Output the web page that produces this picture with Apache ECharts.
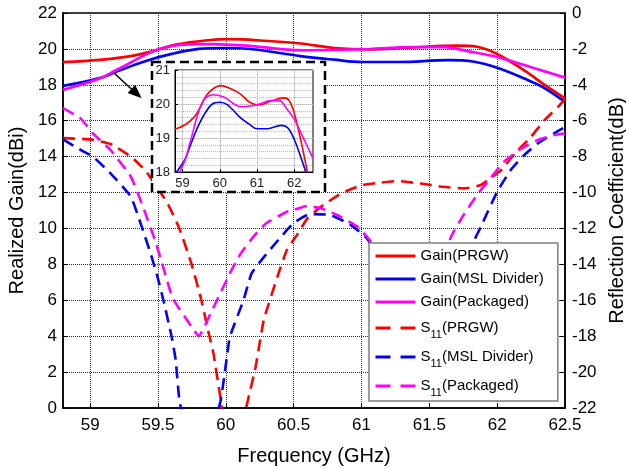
<!DOCTYPE html>
<html>
<head>
<meta charset="utf-8">
<script src="https://cdn.jsdelivr.net/npm/echarts@6/dist/echarts.min.js"></script>
<style>
  html, body { margin: 0; padding: 0; background: #fff; }
  #chart { width: 626px; height: 468px; }
</style>
</head>
<body>
<div id="chart"></div>
<script>
// frequency ticks (GHz)
const xTicks = [59, 59.5, 60, 60.5, 61, 61.5, 62, 62.5];
const insetXTicks = [59, 60, 61, 62];

// realized gain (dBi)
const freqGainPrgw = [58.8, 59.07, 59.3, 59.45, 59.64, 59.85, 60.03, 60.25, 60.55, 60.8, 61.05, 61.37, 61.7, 61.85, 62.0, 62.2, 62.35, 62.5];
const gainPrgw = [19.26, 19.39, 19.6, 19.85, 20.25, 20.47, 20.54, 20.47, 20.3, 20.05, 19.97, 20.08, 20.18, 20.12, 19.72, 18.8, 18.0, 17.25];

const freqGainMsl = [58.8, 59.07, 59.2, 59.4, 59.6, 59.8, 60.0, 60.2, 60.55, 60.8, 61.0, 61.28, 61.64, 61.82, 62.0, 62.2, 62.33, 62.5];
const gainMsl = [17.94, 18.38, 18.75, 19.3, 19.72, 20.0, 20.05, 19.98, 19.6, 19.4, 19.27, 19.27, 19.37, 19.3, 18.95, 18.35, 17.9, 17.05];

const freqGainPkg = [58.8, 59.07, 59.2, 59.52, 59.8, 60.12, 60.57, 61.0, 61.37, 61.6, 61.8, 62.0, 62.2, 62.35, 62.5];
const gainPkg = [17.72, 18.35, 18.85, 20.02, 20.27, 20.2, 19.92, 19.98, 20.1, 20.1, 19.85, 19.55, 19.1, 18.75, 18.4];

// reflection coefficient S11 (dB)
const freqS11Prgw = [58.8, 59.0, 59.15, 59.3, 59.41, 59.57, 59.66, 59.75, 59.82, 59.87, 59.91, 59.96, 60.05, 60.16, 60.22, 60.28, 60.38, 60.45, 60.53, 60.6, 60.7, 60.85, 61.0, 61.14, 61.26, 61.44, 61.6, 61.76, 61.88, 61.95, 62.03, 62.13, 62.25, 62.35, 62.45, 62.5];
const s11Prgw = [-6.97, -7.04, -7.3, -8.0, -8.8, -10.6, -12.05, -14.05, -16.0, -17.7, -19.0, -21.4, -25, -21.65, -19.7, -17.1, -14.7, -13.2, -12.3, -11.45, -10.8, -10.05, -9.6, -9.45, -9.36, -9.5, -9.68, -9.77, -9.58, -9.21, -8.75, -7.82, -6.89, -5.96, -5.22, -4.8];

const freqS11Msl = [58.8, 58.93, 59.02, 59.15, 59.3, 59.38, 59.45, 59.5, 59.54, 59.6, 59.63, 59.66, 59.8, 59.96, 60.01, 60.03, 60.13, 60.19, 60.28, 60.38, 60.5, 60.62, 60.77, 60.92, 61.04, 61.2, 61.45, 61.7, 61.82, 61.88, 62.0, 62.1, 62.2, 62.3, 62.42, 62.5];
const s11Msl = [-7.04, -7.63, -8.0, -8.93, -10.23, -11.9, -13.5, -14.8, -16.0, -18.0, -19.3, -21.65, -26, -21.65, -19.05, -18.03, -16.0, -14.5, -13.6, -12.7, -11.7, -11.2, -11.25, -11.8, -12.55, -14.5, -18, -15, -12.83, -11.9, -9.96, -8.75, -7.91, -7.26, -6.7, -6.35];

const freqS11Pkg = [58.8, 58.93, 59.02, 59.15, 59.3, 59.39, 59.48, 59.54, 59.61, 59.75, 59.8, 59.89, 59.96, 60.03, 60.11, 60.21, 60.3, 60.45, 60.5, 60.6, 60.7, 60.82, 60.97, 61.04, 61.2, 61.4, 61.6, 61.66, 61.76, 61.86, 61.95, 62.05, 62.18, 62.3, 62.42, 62.5];
const s11Pkg = [-5.3, -5.87, -6.7, -7.63, -9.12, -10.8, -12.7, -14.2, -15.9, -17.5, -18.0, -16.7, -15.6, -14.5, -13.4, -12.4, -11.7, -11.07, -10.97, -10.75, -10.88, -11.25, -11.9, -12.46, -14.0, -16.5, -14.0, -12.46, -11.16, -10.05, -9.21, -8.28, -7.54, -7.07, -6.8, -6.7];

const names = ['Gain(PRGW)', 'Gain(MSL Divider)', 'Gain(Packaged)', 'S11(PRGW)', 'S11(MSL Divider)', 'S11(Packaged)'];
const RED = '#ff0000', BLUE = '#0000ff', MAG = '#ff00ff';
const FONT = 'Liberation Sans, Arial, sans-serif';

const zip = (xs, ys) => xs.map((x, i) => [x, ys[i]]);

const chart = echarts.init(document.getElementById('chart'), null, { renderer: 'canvas' });

function gainLine(name, color, xs, ys, inset) {
  return {
    name, type: 'line', data: zip(xs, ys),
    xAxisIndex: inset ? 1 : 0, yAxisIndex: inset ? 2 : 0,
    showSymbol: false, symbol: 'none', smooth: 0.35, clip: true,
    lineStyle: { color, width: inset ? 1.6 : 2.7 },
    itemStyle: { color },
    z: inset ? 12 : 2,
    silent: true,
  };
}

function s11Line(name, color, xs, ys) {
  return {
    name, type: 'line', data: zip(xs, ys),
    xAxisIndex: 0, yAxisIndex: 1,
    showSymbol: false, symbol: 'none', smooth: 0.15, clip: true,
    lineStyle: { color, width: 2.6, type: [12, 7] },
    itemStyle: { color },
    z: 2,
    silent: true,
  };
}

const dotted = { type: 'dotted', color: '#333', width: 1 };

const option = {
  animation: false,
  backgroundColor: '#fff',
  textStyle: { fontFamily: FONT },
  grid: [
    { left: 63, right: 61, top: 13, bottom: 60, show: true, borderColor: '#000', borderWidth: 1.5, backgroundColor: 'transparent', outerBoundsMode: 'none', containLabel: false },
    { left: 175, top: 70, width: 138, height: 102, show: true, borderColor: '#000', borderWidth: 1, backgroundColor: '#fff', z: 10, outerBoundsMode: 'none', containLabel: false },
  ],
  xAxis: [
    {
      type: 'value', gridIndex: 0, min: 58.8, max: 62.5,
      name: 'Frequency (GHz)', nameLocation: 'middle', nameGap: 38,
      nameTextStyle: { fontSize: 20, color: '#000', fontFamily: FONT },
      axisLine: { lineStyle: { color: '#000', width: 1.5 } },
      axisTick: { inside: true, length: 5, customValues: xTicks, lineStyle: { color: '#000' } },
      axisLabel: { customValues: xTicks, fontSize: 17, color: '#000', margin: 9, fontFamily: FONT },
      splitLine: { show: true, lineStyle: dotted },
    },
    {
      type: 'value', gridIndex: 1, min: 58.8, max: 62.5, z: 10,
      axisLine: { lineStyle: { color: '#000', width: 1 } },
      axisTick: { inside: true, length: 3, customValues: insetXTicks, lineStyle: { color: '#000' } },
      axisLabel: { customValues: insetXTicks, fontSize: 13, color: '#222', margin: 5, fontFamily: FONT },
      splitLine: { show: true, lineStyle: { color: '#c8c8c8', width: 1 } },
    },
  ],
  yAxis: [
    {
      type: 'value', gridIndex: 0, position: 'left', min: 0, max: 22, interval: 2,
      name: 'Realized Gain(dBi)', nameLocation: 'middle', nameGap: 27,
      nameTextStyle: { fontSize: 20, color: '#000', fontFamily: FONT },
      axisLine: { show: true, lineStyle: { color: '#000', width: 1.5 } },
      axisTick: { show: true, inside: true, length: 5, lineStyle: { color: '#000' } },
      axisLabel: { fontSize: 17, color: '#000', margin: 6, fontFamily: FONT },
      splitLine: { show: true, lineStyle: dotted },
    },
    {
      type: 'value', gridIndex: 0, position: 'right', min: -22, max: 0, interval: 2,
      name: 'Reflection Coefficient(dB)', nameLocation: 'middle', nameGap: 39, nameRotate: 90,
      nameTextStyle: { fontSize: 20, color: '#000', fontFamily: FONT },
      axisLine: { show: true, lineStyle: { color: '#000', width: 1.5 } },
      axisTick: { show: true, inside: true, length: 5, lineStyle: { color: '#000' } },
      axisLabel: { fontSize: 17, color: '#000', margin: 7, fontFamily: FONT },
      splitLine: { show: false },
    },
    {
      type: 'value', gridIndex: 1, min: 18, max: 21, interval: 1, z: 10,
      axisLine: { show: true, lineStyle: { color: '#000', width: 1 } },
      axisTick: { show: true, inside: true, length: 3, lineStyle: { color: '#000' } },
      axisLabel: { fontSize: 13, color: '#222', margin: 5, fontFamily: FONT },
      splitLine: { show: true, lineStyle: { color: '#c8c8c8', width: 1 } },
      minorTick: { show: false, splitNumber: 5 },
      minorSplitLine: { show: true, lineStyle: { type: 'dotted', color: '#bbb', width: 1 } },
    },
  ],
  legend: {
    orient: 'vertical', left: 369, top: 243,
    backgroundColor: '#fff', borderColor: '#7f7f7f', borderWidth: 1.5,
    padding: [4, 14, 3, 5], itemGap: 5, itemWidth: 40, itemHeight: 17.5,
    selectedMode: false,
    itemStyle: { opacity: 0 },
    data: names.map((n, i) => ({
      name: n,
      itemStyle: { opacity: 0 },
      lineStyle: i < 3 ? { width: 3 } : { width: 3, type: [15, 10] },
    })),
    formatter: (name) => name.startsWith('S11')
      ? '{m|S}{s|11}{m|' + name.slice(3) + '}'
      : '{g|' + name + '}',
    textStyle: {
      fontSize: 15, color: '#000', fontFamily: FONT,
      rich: {
        g: { fontSize: 15, lineHeight: 17.5, padding: [1.5, 0, 1.5, 0], fontFamily: FONT, color: '#000' },
        m: { fontSize: 15, lineHeight: 17.5, fontFamily: FONT, color: '#000' },
        s: { fontSize: 11, lineHeight: 11, padding: [13, 0, 0, 0], fontFamily: FONT, color: '#000' },
      },
    },
  },
  graphic: [
    {
      type: 'rect', z: 5, silent: true,
      shape: { x: 152, y: 62, width: 173, height: 130 },
      style: { fill: '#fff', stroke: '#000', lineWidth: 2.5, lineDash: [9, 5] },
    },
    {
      type: 'polyline', z: 5, silent: true,
      shape: { points: [[114, 73], [133, 90.5]] },
      style: { stroke: '#000', lineWidth: 1.6, fill: null },
    },
    {
      type: 'polygon', z: 5, silent: true,
      shape: { points: [[141.7, 98.3], [127.7, 93.0], [135.1, 84.8]] },
      style: { fill: '#000' },
    },
  ],
  series: [
    gainLine(names[0], RED, freqGainPrgw, gainPrgw, false),
    gainLine(names[1], BLUE, freqGainMsl, gainMsl, false),
    gainLine(names[2], MAG, freqGainPkg, gainPkg, false),
    s11Line(names[3], RED, freqS11Prgw, s11Prgw),
    s11Line(names[4], BLUE, freqS11Msl, s11Msl),
    s11Line(names[5], MAG, freqS11Pkg, s11Pkg),
    gainLine(names[0], RED, freqGainPrgw, gainPrgw, true),
    gainLine(names[1], BLUE, freqGainMsl, gainMsl, true),
    gainLine(names[2], MAG, freqGainPkg, gainPkg, true),
  ],
};

chart.setOption(option);
</script>
</body>
</html>
